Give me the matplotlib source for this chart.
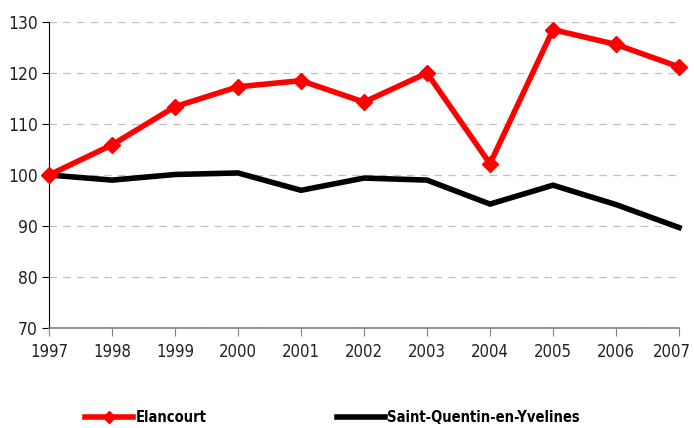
import matplotlib
matplotlib.use("Agg")
import matplotlib.pyplot as plt
from matplotlib import font_manager
from matplotlib.lines import Line2D
from matplotlib.transforms import ScaledTranslation

years = [1997, 1998, 1999, 2000, 2001, 2002, 2003, 2004, 2005, 2006, 2007]
elancourt = [100, 105.9, 113.4, 117.3, 118.5, 114.3, 120.0, 102.2, 128.5, 125.6, 121.2]
sqy = [100, 99.0, 100.1, 100.4, 97.0, 99.4, 99.0, 94.3, 98.0, 94.2, 89.7]
yticks = [70, 80, 90, 100, 110, 120, 130]

# look for a narrow face, otherwise fall back on Liberation Sans
cond = [f.name for f in font_manager.fontManager.ttflist
        if 'condensed' in str(f.stretch) or 'Narrow' in f.name or 'Condensed' in f.name]
face = cond[0] if cond else 'Liberation Sans'
plt.rcParams['font.family'] = [face, 'Liberation Sans', 'DejaVu Sans']
plt.rcParams['font.stretch'] = 'condensed'

fig = plt.figure(figsize=(6.94, 4.28), dpi=100)
ax = fig.add_axes([49 / 694, 1 - 328 / 428, 630 / 694, 306 / 428])

ax.plot(years, elancourt, color='#ff0000', lw=4, marker='D', ms=8.5,
        zorder=3, clip_on=False)
ax.plot(years, sqy, color='black', lw=4, zorder=2, clip_on=False)

ax.set_xlim(1997, 2007)
ax.set_ylim(70, 130)
ax.set_xticks(years)
ax.set_yticks(yticks)
ax.yaxis.grid(True, color='#c0c0c0', ls=(0, (6, 5)), lw=0.9)
ax.set_axisbelow(True)
for s in ['top', 'right']:
    ax.spines[s].set_visible(False)
ax.spines['left'].set_color('black')
ax.spines['bottom'].set_color('#808080')
ax.spines['bottom'].set_linewidth(1.2)
ax.tick_params(axis='x', colors='#808080', length=6, labelcolor='#222222',
               labelsize=12, pad=5)
ax.tick_params(axis='y', length=5, labelcolor='#222222', labelsize=12.5, pad=3)

# last year label sits on the right edge, pull it in a little
last = ax.get_xticklabels()[-1]
last.set_transform(last.get_transform() + ScaledTranslation(-7 / 100, 0, fig.dpi_scale_trans))

h1 = Line2D([], [], color='#ff0000', lw=4, marker='D', ms=6)
h2 = Line2D([], [], color='black', lw=4)
lp = {'weight': 'bold', 'size': 10.5}
leg1 = fig.legend([h1], ['Elancourt'], loc='center left',
                  bbox_to_anchor=(85 / 694, 1 - 418 / 428), frameon=False,
                  handlelength=3.3, handletextpad=0.15, prop=lp,
                  borderaxespad=0, borderpad=0)
leg2 = fig.legend([h2], ['Saint-Quentin-en-Yvelines'], loc='center left',
                  bbox_to_anchor=(337 / 694, 1 - 418 / 428), frameon=False,
                  handlelength=3.3, handletextpad=0.15, prop=lp,
                  borderaxespad=0, borderpad=0)

fig.savefig('out.png', dpi=100)
